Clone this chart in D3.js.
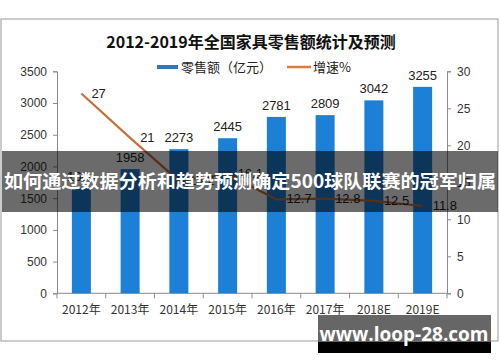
<!DOCTYPE html>
<html>
<head>
<meta charset="utf-8">
<script src="https://cdn.jsdelivr.net/npm/d3@7"></script>
<style>
  body { margin: 0; background: #fff; }
  svg { display: block; font-family: "Liberation Sans", "Noto Sans CJK SC", sans-serif; }
</style>
</head>
<body>
<svg id="chart" width="500" height="362"></svg>
<script>
const years = ["2012年", "2013年", "2014年", "2015年", "2016年", "2017年", "2018E", "2019E"];
const sales = [1664, 1958, 2273, 2445, 2781, 2809, 3042, 3255];
const growth = [27, 21, 15.2, 16.1, 12.7, 12.8, 12.5, 11.8];
const leftTicks = [0, 500, 1000, 1500, 2000, 2500, 3000, 3500];
const rightTicks = [0, 5, 10, 15, 20, 25, 30];

const svg = d3.select("#chart");
const plotLeft = 57, plotRight = 447, plotBottom = 293.3, plotTop = 71.3;

// frame
svg.append("rect")
  .attr("x", 1).attr("y", 19).attr("width", 497).attr("height", 322)
  .attr("fill", "#fff").attr("stroke", "#9a9a9a");

svg.append("text")
  .attr("x", 251).attr("y", 48)
  .attr("text-anchor", "middle")
  .attr("font-family", "Noto Sans CJK SC")
  .attr("font-weight", "bold").attr("font-size", 16)
  .attr("fill", "#111")
  .text("2012-2019年全国家具零售额统计及预测");

// legend
const legend = svg.append("g").attr("font-family", "Noto Sans CJK SC").attr("font-size", 13).attr("fill", "#222");
legend.append("line").attr("x1", 157).attr("x2", 178).attr("y1", 67).attr("y2", 67)
  .attr("stroke", "#2b78c2").attr("stroke-width", 4);
legend.append("text").attr("x", 181).attr("y", 72).text("零售额（亿元）");
legend.append("line").attr("x1", 287).attr("x2", 311).attr("y1", 67).attr("y2", 67)
  .attr("stroke", "#e07b39").attr("stroke-width", 2.5);
legend.append("text").attr("x", 313).attr("y", 72).text("增速%");

const x = d3.scaleBand().domain(years).range([plotLeft, plotRight]).padding(0);
const y = d3.scaleLinear().domain([0, 3500]).range([plotBottom, plotTop]);
const y2 = d3.scaleLinear().domain([0, 30]).range([plotBottom, plotTop]);
const barW = 19;

// axes
const axisColor = "#8a8a8a";
svg.append("g")
  .attr("transform", `translate(${plotLeft},0)`)
  .call(d3.axisLeft(y).tickValues(leftTicks).tickFormat(d3.format("d")).tickSize(4).tickPadding(6))
  .call(g => g.selectAll("path,line").attr("stroke", axisColor))
  .call(g => g.selectAll("text").attr("font-size", 12).attr("fill", "#333").attr("font-family", "Liberation Sans"));

svg.append("g")
  .attr("transform", `translate(${plotRight},0)`)
  .call(d3.axisRight(y2).tickValues(rightTicks).tickFormat(d3.format("d")).tickSize(4).tickPadding(6))
  .call(g => g.selectAll("path,line").attr("stroke", axisColor))
  .call(g => g.selectAll("text").attr("font-size", 12).attr("fill", "#333").attr("font-family", "Liberation Sans"));

const xAxis = svg.append("g").attr("transform", `translate(0,${plotBottom})`);
xAxis.append("line").attr("x1", plotLeft).attr("x2", plotRight).attr("stroke", axisColor);
xAxis.selectAll("line.tick")
  .data(years.map(d => x(d)).concat([plotRight]))
  .join("line")
  .attr("class", "tick")
  .attr("x1", d => d).attr("x2", d => d).attr("y1", 0).attr("y2", 5)
  .attr("stroke", axisColor);
xAxis.selectAll("text")
  .data(years)
  .join("text")
  .attr("x", d => x(d) + x.bandwidth() / 2)
  .attr("y", 21)
  .attr("text-anchor", "middle")
  .attr("font-family", "Noto Sans CJK SC")
  .attr("font-size", 12)
  .attr("fill", "#333")
  .text(d => d);

// bars
svg.append("g")
  .attr("fill", "#1c80d6")
  .selectAll("rect")
  .data(sales)
  .join("rect")
  .attr("x", (d, i) => x(years[i]) + x.bandwidth() / 2 - barW / 2)
  .attr("y", d => y(d))
  .attr("width", barW)
  .attr("height", d => y(0) - y(d));

svg.append("g")
  .attr("font-size", 13).attr("fill", "#222").attr("text-anchor", "middle")
  .selectAll("text")
  .data(sales)
  .join("text")
  .attr("x", (d, i) => x(years[i]) + x.bandwidth() / 2)
  .attr("y", d => y(d) - 7)
  .text(d => d);

// growth line
const cx = i => x(years[i]) + x.bandwidth() / 2;
svg.append("path")
  .datum(growth)
  .attr("fill", "none")
  .attr("stroke", "#c8703c")
  .attr("stroke-width", 2.2)
  .attr("d", d3.line().x((d, i) => cx(i)).y(d => y2(d)));

svg.append("g")
  .attr("font-size", 13).attr("fill", "#222")
  .selectAll("text")
  .data(growth)
  .join("text")
  .attr("x", (d, i) => cx(i) + 10)
  .attr("y", d => y2(d) + 4)
  .text(d => d);

// overlays
svg.append("rect")
  .attr("x", 2).attr("y", 151).attr("width", 496).attr("height", 61)
  .attr("fill", "rgba(0,0,0,0.58)");
svg.append("text")
  .attr("x", 250).attr("y", 188)
  .attr("text-anchor", "middle")
  .attr("font-family", "Noto Sans CJK SC")
  .attr("font-weight", "bold").attr("font-size", 18)
  .attr("textLength", 492).attr("lengthAdjust", "spacingAndGlyphs")
  .attr("fill", "#fff")
  .text("如何通过数据分析和趋势预测确定500球队联赛的冠军归属");

svg.append("rect")
  .attr("x", 318).attr("y", 315).attr("width", 173).attr("height", 27)
  .attr("fill", "#666");
svg.append("rect")
  .attr("x", 318).attr("y", 342).attr("width", 173).attr("height", 11)
  .attr("fill", "#000");
svg.append("text")
  .attr("x", 404).attr("y", 341)
  .attr("text-anchor", "middle")
  .attr("font-family", "Open Sans")
  .attr("font-weight", "bold").attr("font-size", 19)
  .attr("fill", "#fff")
  .text("www.loop-28.com");
</script>
</body>
</html>
